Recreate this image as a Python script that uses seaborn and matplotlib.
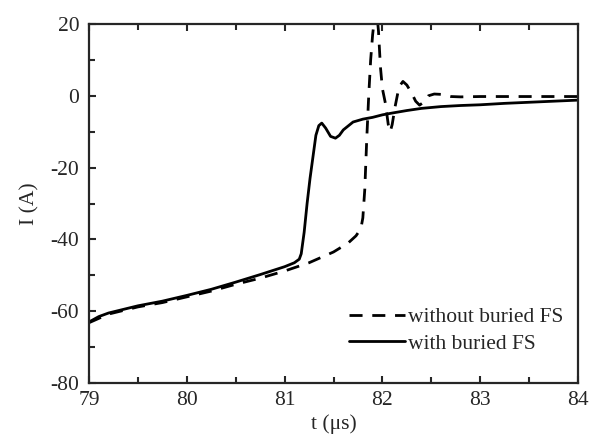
import numpy as np
import pandas as pd
import matplotlib
matplotlib.use("Agg")
import matplotlib.pyplot as plt
from matplotlib.ticker import MultipleLocator
import seaborn as sns

# with buried FS (solid)
t_with = [79.0, 79.1, 79.2, 79.35, 79.5, 79.75, 80.0, 80.25, 80.5, 80.75,
          81.0, 81.1, 81.15, 81.17, 81.2, 81.23, 81.26, 81.29, 81.32, 81.35,
          81.38, 81.42, 81.47, 81.52, 81.56, 81.6, 81.7, 81.8, 81.9, 82.0,
          82.1, 82.25, 82.4, 82.6, 82.8, 83.0, 83.25, 83.5, 83.75, 84.0]
i_with = [-63.0, -61.5, -60.5, -59.5, -58.5, -57.2, -55.6, -53.9, -51.9, -49.8,
          -47.6, -46.5, -45.5, -44.0, -38.0, -30.0, -23.0, -17.0, -11.0, -8.3,
          -7.6, -9.0, -11.3, -11.8, -11.0, -9.5, -7.3, -6.5, -6.0, -5.3,
          -4.8, -4.1, -3.5, -3.0, -2.7, -2.5, -2.1, -1.8, -1.5, -1.2]

# without buried FS (dashed)
t_without = [79.0, 79.2, 79.5, 79.75, 80.0, 80.25, 80.5, 80.75, 81.0, 81.25,
             81.5, 81.65, 81.73, 81.78, 81.8, 81.82, 81.84, 81.86, 81.88, 81.9,
             81.92, 81.94, 81.96, 81.98, 82.0, 82.03, 82.06, 82.08, 82.1, 82.13,
             82.17, 82.21, 82.25, 82.3, 82.34, 82.38, 82.42, 82.47, 82.53, 82.6,
             82.7, 82.8, 83.0, 83.5, 84.0]
i_without = [-63.2, -60.8, -58.8, -57.6, -56.0, -54.4, -52.5, -50.8, -48.8, -46.5,
             -43.5, -41.0, -39.0, -37.0, -34.0, -26.0, -12.0, 0.0, 10.0, 17.0,
             22.0, 24.0, 18.0, 8.0, 2.0, -2.0, -8.0, -10.0, -8.0, -3.0,
             2.5, 4.0, 3.0, 0.7, -1.5, -2.6, -1.8, 0.0, 0.5, 0.4,
             -0.2, -0.3, -0.2, -0.2, -0.2]

sns.set_style("ticks")
plt.rcParams['font.family'] = ['Liberation Serif', 'DejaVu Serif']
plt.rcParams['axes.unicode_minus'] = False

fig = plt.figure(figsize=(5.91, 4.43), dpi=100)
ax = fig.add_axes([0.1506, 0.1354, 0.8274, 0.8104])

sns.lineplot(x=t_without, y=i_without, ax=ax, color='black', lw=2.0,
             label='without buried FS', sort=False, estimator=None)
sns.lineplot(x=t_with, y=i_with, ax=ax, color='black', lw=2.0,
             label='with buried FS', sort=False, estimator=None)
ax.lines[0].set_dashes((4.7, 3.5))

ax.set_xlim(79, 84)
ax.set_ylim(-80, 20)
ax.xaxis.set_major_locator(MultipleLocator(1))
ax.xaxis.set_minor_locator(MultipleLocator(0.5))
ax.yaxis.set_major_locator(MultipleLocator(20))
ax.yaxis.set_minor_locator(MultipleLocator(10))
ax.tick_params(which='both', direction='in', top=True, right=False,
               width=1.5, labelsize=15.5)
ax.tick_params(which='major', length=5)
ax.tick_params(which='minor', length=4)
ax.tick_params(axis='y', pad=7)
ax.tick_params(axis='x', pad=6)
for s in ax.spines.values():
    s.set_linewidth(1.6)

ax.set_xlabel('t (\u03bcs)', fontsize=15.5, labelpad=3)
ax.set_ylabel('I (A)', fontsize=15.5, labelpad=8)

leg = ax.legend(loc='lower right', frameon=False, fontsize=15.5,
                handlelength=2.6, handletextpad=0.1, labelspacing=0.3,
                bbox_to_anchor=(1.0, 0.04), borderaxespad=0.3)
leg.get_lines()[0].set_dashes((4.7, 3.5))

fig.savefig('out.png', dpi=100)
